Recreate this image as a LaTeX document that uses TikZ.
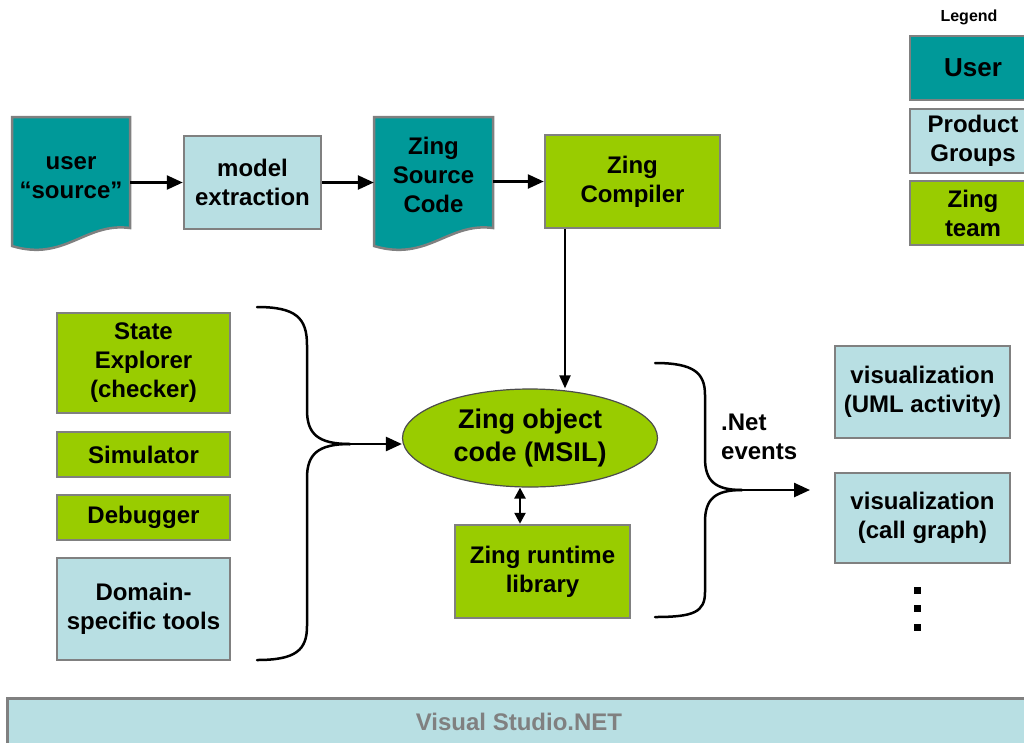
\documentclass[tikz,border=0pt]{standalone}
\usepackage{fontspec}
\setmainfont{Liberation Sans}
\usetikzlibrary{arrows.meta,shapes.geometric,backgrounds,calc}
\definecolor{teal1}{HTML}{009999}
\definecolor{lblue}{HTML}{B8DFE3}
\definecolor{zgreen}{HTML}{99CC00}
\definecolor{bord}{HTML}{808080}
\begin{document}
\begin{tikzpicture}[x=1pt,y=-1pt,
  txt/.style={font=\bfseries\fontsize{24}{29}\selectfont,align=center,text=black},
  basebox/.style={txt,draw=bord,line width=2.5pt,inner sep=0pt},
  userbox/.style={basebox,fill=teal1},
  pgbox/.style={basebox,fill=lblue},
  zgbox/.style={basebox,fill=zgreen},
  docfill/.style={fill=teal1,draw=bord,line width=2.5pt,line join=miter},
  flow/.style={line width=2.5pt,-{Triangle[length=16pt,width=14pt]}},
  thinflow/.style={line width=2pt,-{Triangle[length=13pt,width=11pt]}},
  dbl/.style={line width=2.5pt,{Triangle[length=11pt,width=11pt]}-{Triangle[length=11pt,width=11pt]}},
  bracel/.style={line width=2.5pt,line cap=round}
]
\useasboundingbox (0,0) rectangle (1024,742);

% ---- top row
\node[txt,minimum width=118pt,minimum height=111pt] (us) at (71,178) {user\\“source”};
\node[pgbox,minimum width=137pt,minimum height=93pt] (me) at (252.5,182.5) {model\\extraction};
\node[txt,minimum width=119pt,minimum height=111pt] (zs) at (433.5,175) {Zing\\Source\\Code};
\node[zgbox,minimum width=175pt,minimum height=93pt] (zc) at (632.5,181.5) {Zing\\Compiler};

\begin{scope}[on background layer]
\path[docfill] (12,117) -- (130,117) -- (130,228)
  .. controls (85,222) and (65,262) .. (12,246) -- cycle;
\path[docfill] (374,117) -- (493,117) -- (493,228)
  .. controls (448,222) and (428,262) .. (374,246) -- cycle;
\end{scope}

\draw[flow] (us.east |- me.west) -- (me.west);
\draw[flow] (me.east) -- (zs.west |- me.east);
\draw[flow] (zs.east |- zc.west) -- (zc.west);

% ---- centre
\node[ellipse,draw=gray!60!black,line width=1.2pt,fill=zgreen,minimum width=255pt,minimum height=98pt,inner sep=0pt,
  font=\bfseries\fontsize{27}{33}\selectfont,align=center] (ell) at (530,438) {Zing object\\code (MSIL)};
\draw[thinflow] (zc.south -| 565,0) -- (ell.north -| 565,0);

\node[zgbox,minimum width=175pt,minimum height=93pt] (rt) at (542.5,571.5) {Zing runtime\\library};
\draw[dbl] (ell.south -| 520,0) -- (rt.north -| 520,0);

% ---- left tools
\node[zgbox,minimum width=173pt,minimum height=100pt] (se) at (143.5,363) {State\\Explorer\\(checker)};
\node[zgbox,minimum width=173pt,minimum height=45pt] (sim) at (143.5,454.5) {Simulator};
\node[zgbox,minimum width=173pt,minimum height=45pt] (dbg) at (143.5,517.5) {Debugger};
\node[pgbox,minimum width=173pt,minimum height=102pt] (dst) at (143.5,609) {Domain-\\specific tools};

% left brace
\coordinate (lbtip) at (350,444);
\draw[bracel] (257,307) .. controls (296,307) and (307,318) .. (307,345) -- (307,410)
  .. controls (307,434) and (318,444) .. (lbtip);
\draw[bracel] (lbtip) .. controls (318,444) and (307,454) .. (307,478) -- (307,626)
  .. controls (307,650) and (296,660) .. (257,660);
\draw[flow] (lbtip) -- (lbtip -| ell.west);

% right brace
\coordinate (rbtip) at (742,490);
\coordinate (rbend) at (810,490);
\draw[bracel] (655,363) .. controls (694,363) and (705,373) .. (705,395) -- (705,458)
  .. controls (705,481) and (715,490) .. (rbtip);
\draw[bracel] (rbtip) .. controls (715,490) and (705,499) .. (705,522) -- (705,592)
  .. controls (705,612) and (694,617) .. (655,617);
\draw[flow] (rbtip) -- (rbend);
\node[txt,align=left,anchor=west,inner sep=0pt] (net) at (721,437) {.Net\\events};

% ---- visualizations
\node[pgbox,minimum width=175pt,minimum height=92pt] (v1) at (922.5,392) {visualization\\(UML activity)};
\node[pgbox,minimum width=175pt,minimum height=90pt] (v2) at (922.5,518) {visualization\\(call graph)};
\foreach \yy in {590,608.5,627}
  \fill (913.5,\yy-3.5) rectangle ++(7,7);

% ---- legend
\node[font=\bfseries\fontsize{16}{19}\selectfont] (leg) at (969,17) {Legend};
\node[userbox,minimum width=126pt,minimum height=64pt,font=\bfseries\fontsize{26}{31}\selectfont] (lu) at (973,68) {User};
\node[pgbox,minimum width=126pt,minimum height=64pt] (lp) at (973,141) {Product\\Groups};
\node[zgbox,minimum width=126pt,minimum height=64pt] (lz) at (973,213) {Zing\\team};

% ---- Visual Studio bar
\node[draw=bord,line width=2.5pt,fill=lblue,minimum width=1040pt,minimum height=60pt,anchor=north west,inner sep=0pt] (vs) at (6,697) {};
\node[font=\bfseries\fontsize{24}{29}\selectfont,text=bord] (vst) at (519,722) {Visual Studio.NET};
\end{tikzpicture}
\end{document}
